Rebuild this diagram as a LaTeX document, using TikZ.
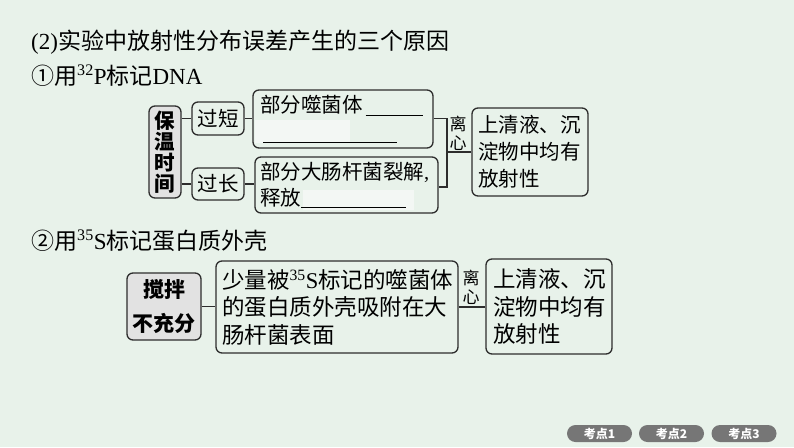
\documentclass[tikz,border=0pt]{standalone}
\usepackage{fontspec}
\setmainfont{Noto Sans CJK SC}
\newfontfamily\latin{Liberation Serif}
\usepackage{xcolor}
\usetikzlibrary{calc}

\definecolor{pagebg}{RGB}{232,242,234}
\definecolor{boxline}{RGB}{45,45,45}
\definecolor{keygray}{RGB}{226,226,226}
\definecolor{tabgray}{RGB}{118,118,118}
\definecolor{blankfill}{RGB}{243,247,244}

\newcommand{\fs}[2]{\fontsize{#1}{#2}\selectfont}
\newcommand{\blank}[1]{\rule[-2.5pt]{#1}{0.8pt}}

\tikzset{
  box/.style={draw=boxline, line width=1.3pt, rounded corners=6pt,
    inner ysep=0pt, align=left},
  keybox/.style={box, fill=keygray, align=center, inner sep=0pt,
    font=\bfseries\fs{20.5}{21}},
  link/.style={draw=boxline, line width=1.2pt},
  tab/.style={fill=tabgray, rounded corners=8.5pt, text=white,
    minimum width=65pt, minimum height=17pt, inner sep=0pt,
    font=\bfseries\fs{12}{12}}
}

\begin{document}
\begin{tikzpicture}[x=1pt,y=-1pt]
  % page
  \fill[pagebg] (0,0) rectangle (794,447);
  \useasboundingbox (0,0) rectangle (794,447);

  % headings
  \node[anchor=west, inner sep=0pt, font=\fs{23}{23}] (title) at (31,42)
    {{\latin(2)}实验中放射性分布误差产生的三个原因};
  \node[anchor=west, inner sep=0pt, font=\fs{23}{23}] (partP) at (31,76)
    {①用{\latin\textsuperscript{32}P}标记{\latin DNA}};
  \node[anchor=west, inner sep=0pt, font=\fs{23}{23}] (partS) at (31,241)
    {②用{\latin\textsuperscript{35}S}标记蛋白质外壳};

  % 32P: keeping time
  \fill[blankfill] (255,120) rectangle (350,143);
  \fill[blankfill] (303,190) rectangle (414,210);
  \node[keybox, minimum width=32pt, minimum height=92pt] (baowen) at (165,152)
    {保\\温\\时\\间};
  \node[box, align=center, inner sep=0pt, minimum width=52pt, minimum height=33pt,
    font=\fs{20.5}{21}] (guoduan) at (218,118.5) {过短};
  \node[box, align=center, inner sep=0pt, minimum width=52pt, minimum height=32pt,
    font=\fs{20.5}{21}] (guochang) at (218,184) {过长};
  \node[box, inner xsep=7pt, text width=166pt, minimum height=58pt,
    font=\fs{20.5}{27}] (shortbox) at (343,119)
    {\mbox{部分噬菌体\hspace{3pt}\blank{57pt}}\\\mbox{\hspace*{3pt}\blank{134pt}}};
  \node[box, inner xsep=5pt, text width=173pt, minimum height=56pt,
    font=\fs{20.5}{26}] (longbox) at (346.5,185)
    {\mbox{部分大肠杆菌裂解{\latin,}}\\\mbox{释放\blank{105pt}}};
  \node[box, inner xsep=6pt, text width=104pt, minimum height=88pt,
    font=\fs{20.5}{27}] (result1) at (530,152)
    {上清液、沉\\淀物中均有\\放射性};
  \node[inner sep=0pt, align=center, font=\fs{17}{19}] (lixin1) at (458,133)
    {离\\心};
  \coordinate (bk) at (447,152);

  \draw[link] (guoduan.west -| baowen.east) -- (guoduan.west);
  \draw[link] (guochang.west -| baowen.east) -- (guochang.west);
  \draw[link] (guoduan.east) -- (guoduan.east -| shortbox.west);
  \draw[link] (guochang.east) -- (guochang.east -| longbox.west);
  \draw[link] (guoduan -| shortbox.east) -| (bk) |- (longbox.east |- 0,187);
  \draw[link] (bk) -- (bk -| result1.west);

  % 35S: stirring
  \node[keybox, minimum width=74pt, minimum height=67pt,
    font=\bfseries\fs{21}{34}] (stir) at (164,306.5) {搅拌\\不充分};
  \node[box, inner xsep=6pt, text width=230pt, minimum height=92pt,
    font=\fs{22.5}{27.5}] (shell) at (337,307)
    {\mbox{少量被{\latin\textsuperscript{35}S}标记的噬菌体}\\的蛋白质外壳吸附在大\\肠杆菌表面};
  \node[box, inner xsep=7pt, text width=112pt, minimum height=95pt,
    font=\fs{22.5}{27.5}] (result2) at (549,306.5)
    {上清液、沉\\淀物中均有\\放射性};
  \node[inner sep=0pt, align=center, font=\fs{17}{19}] (lixin2) at (471,287)
    {离\\心};

  \draw[link] (stir.east) -- (stir.east -| shell.west);
  \draw[link] (shell.east) -- (shell.east -| result2.west);

  % tabs
  \foreach \i/\x in {1/599.5,2/671.5,3/744} {
    \node[tab] (tab\i) at (\x,433.5) {考点\i};
  }
\end{tikzpicture}
\end{document}
